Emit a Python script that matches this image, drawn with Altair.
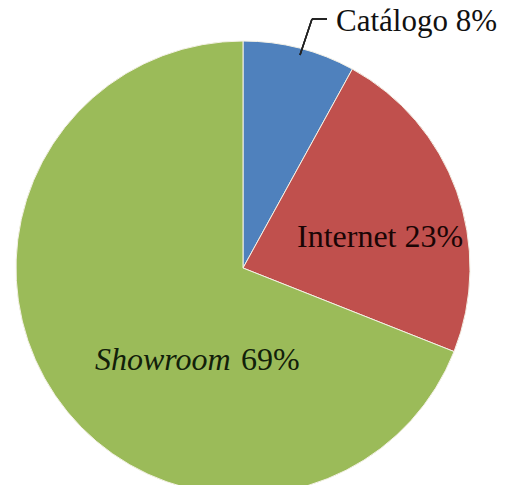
import altair as alt
import pandas as pd

categories = ["Catálogo", "Internet", "Showroom"]
shares = [8, 23, 69]
colors = ["#4F81BD", "#C0504D", "#9BBB59"]

df = pd.DataFrame({
    "canal": categories,
    "pct": shares,
    "orden": [0, 1, 2],
})
df["etiqueta"] = df["canal"] + " " + df["pct"].astype(str) + "%"
df["pct_txt"] = df["pct"].astype(str) + "%"

CX, CY, R = 235, 260, 227
FONT = "Liberation Serif"

base = alt.Chart(df)

pie = base.mark_arc(radius=R, stroke="#f4f1e6", strokeWidth=1).encode(
    theta=alt.Theta("pct:Q", stack=True),
    order=alt.Order("orden:Q"),
    color=alt.Color("canal:N", scale=alt.Scale(domain=categories, range=colors), legend=None),
    x=alt.value(CX),
    y=alt.value(CY),
)

def label(cat, field, x, y, fs, style="normal", color="#111111"):
    return base.transform_filter(alt.datum.canal == cat).mark_text(
        font=FONT, fontSize=fs, fontStyle=style, align="left", baseline="alphabetic", color=color
    ).encode(text=f"{field}:N", x=alt.value(x), y=alt.value(y))

t_cat = label("Catálogo", "etiqueta", 328, 23, 31)
t_int = label("Internet", "etiqueta", 289, 239, 32, color="#1a0505")
t_show = label("Showroom", "canal", 87, 362, 32, style="italic", color="#12200a")
t_show_pct = label("Showroom", "pct_txt", 233, 362, 32, color="#12200a")

lead1 = base.mark_rule(color="#222222", strokeWidth=1.5).encode(
    x=alt.value(304), y=alt.value(11), x2=alt.value(319), y2=alt.value(11)
)
lead2 = base.mark_rule(color="#222222", strokeWidth=1.5).encode(
    x=alt.value(304), y=alt.value(11), x2=alt.value(292), y2=alt.value(47)
)

chart = alt.layer(pie, lead1, lead2, t_cat, t_int, t_show, t_show_pct).properties(
    width=491, height=477, padding=0, autosize=alt.AutoSizeParams(type="none")
).configure_view(stroke=None)

chart.save("out.html", embed_options={"renderer": "svg", "actions": False})
